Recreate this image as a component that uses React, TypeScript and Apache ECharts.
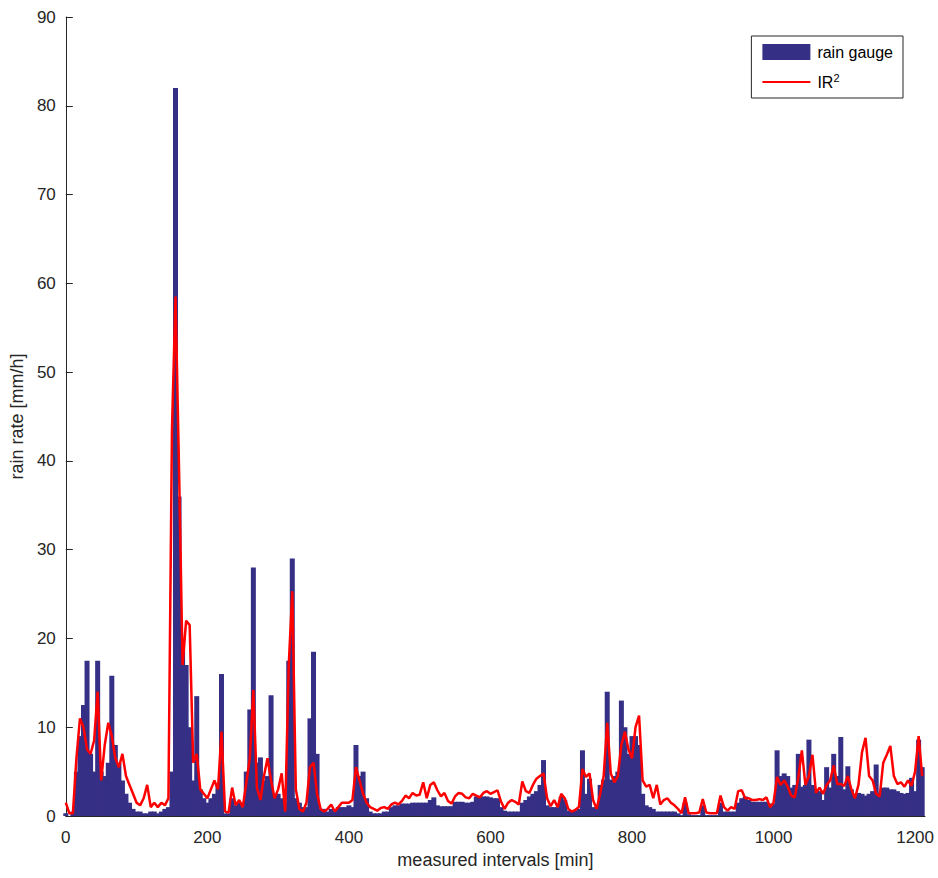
import React, { useEffect, useRef } from "react";
import * as echarts from "echarts";

// sampling step of the read-off values (measured intervals [min])
const STEP = 5;

const xTicks = [0, 200, 400, 600, 800, 1000, 1200];
const yTicks = [0, 10, 20, 30, 40, 50, 60, 70, 80, 90];

// rain gauge values, one per STEP minutes starting at 0
const rainGauge = [
  0.3, 0, 0.5, 5, 9, 12.5, 17.5, 7, 5, 17.5,
  5, 4.5, 6, 15.8, 8, 6, 4, 2.5, 1.5, 0.8,
  0.5, 0.5, 0.3, 0.3, 0.5, 0.5, 0.3, 0.5, 0.8, 1,
  5, 82, 36, 20, 17, 10, 4, 13.5, 3, 2,
  1.5, 2, 2.5, 3.5, 16, 0.3, 0.3, 2, 1.2, 1.5,
  1, 5, 12, 28, 6, 6.6, 4, 4.5, 13.6, 2.5,
  2.5, 2, 1.5, 17.5, 29, 2, 1.5, 1, 1, 11,
  18.5, 7, 0.8, 0.8, 0.5, 0.8, 0.5, 1, 1, 1,
  1.2, 1, 8, 4.5, 5, 2, 0.5, 0.3, 0.3, 0.3,
  0.5, 0.5, 1.0, 1.2, 1.2, 1.4, 1.4, 1.4, 1.5, 1.5,
  1.5, 1.5, 1.5, 1.8, 2.1, 1.2, 1.1, 1.1, 1.1, 1.1,
  1.6, 1.6, 1.6, 1.5, 1.5, 1.6, 2.2, 2.2, 2.2, 2.2,
  2.1, 2.0, 2.0, 1.0, 0.6, 0.5, 0.5, 0.5, 0.5, 1.5,
  1.8, 2.2, 2.5, 2.8, 3.5, 6.3, 1.2, 1.0, 1.0, 1.0,
  2.2, 1.8, 0.6, 0.6, 0.6, 0.8, 7.4, 2.5, 4.2, 1.0,
  1.0, 3.5, 4.1, 14, 4.1, 4.5, 5.0, 13, 10, 7,
  9, 9, 8, 2.5, 1.2, 1.0, 0.8, 0.5, 0.5, 0.5,
  0.5, 0.5, 0.5, 0.3, 0.1, 1.5, 0.2, 0.1, 0.1, 0.1,
  1.2, 0.1, 0.1, 0.1, 0.1, 1.5, 0.5, 0.5, 0.5, 0.5,
  1.5, 2.0, 2.2, 1.8, 1.6, 1.6, 1.6, 1.6, 1.6, 1.4,
  1.4, 7.4, 4.5, 4.8, 4.5, 3.2, 3.5, 7.0, 3.3, 3.5,
  8.6, 3.5, 3.0, 2.8, 1.8, 5.5, 3.2, 7.0, 4.5, 8.9,
  3.0, 5.6, 3.0, 2.5, 2.6, 2.5, 2.3, 2.5, 2.8, 5.8,
  2.6, 3.2, 3.2, 3.0, 3.0, 2.8, 2.6, 2.5, 2.6, 4.3,
  2.8, 8.6, 5.5,
];

// IR² estimate, one per STEP minutes starting at 0
const ir2 = [
  1.5, 0.3, 0.3, 6.5, 11, 10, 7.5, 7, 8.5, 14,
  4, 8, 10.5, 9, 6.5, 5.5, 7, 4.5, 3.5, 2.5,
  1.5, 1.2, 2, 3.5, 1, 1.5, 1, 1.5, 1.2, 2,
  43.5, 58.5, 39, 17, 22, 21.5, 6, 7, 3, 2.5,
  2, 3, 4, 3, 9.5, 0.5, 0.4, 3.2, 1.2, 1.8,
  1, 3.7, 6.5, 14.2, 3.2, 1.8, 4.5, 6.5, 4, 2,
  3, 4.8, 0.5, 17, 25.3, 3, 0.8, 0.5, 1.5, 5.5,
  6, 2.5, 0.8, 0.5, 0.8, 1.3, 0.5, 1, 1.5, 1.5,
  1.5, 1.8, 5.5, 4, 2.5, 1.5, 1, 0.8, 0.6, 0.9,
  1.0, 0.8, 1.3, 1.5, 1.3, 1.7, 2.3, 2.0, 2.6, 2.3,
  2.4, 3.8, 2.0, 3.5, 3.8, 2.9, 2.2, 2.6, 1.7, 1.4,
  2.2, 2.6, 2.5, 2.1, 2.0, 2.5, 2.3, 2.1, 2.6, 2.8,
  2.5, 2.7, 2.9, 1.6, 0.8, 1.5, 1.8, 1.6, 1.3, 3.9,
  2.8, 2.6, 3.5, 4.2, 4.5, 4.8, 2.0, 1.1, 1.8, 1.0,
  2.5, 2.0, 0.8, 0.5, 0.7, 1.0, 5.3, 4.4, 4.8, 1.8,
  0.8, 2.5, 4.5, 10.5, 4.8, 3.8, 4.5, 8, 9.5, 7.5,
  6.5, 10, 11.3, 4, 3.3, 3.5, 2, 3.5, 1.3, 1.8,
  2.0, 1.5, 1.2, 0.8, 0.3, 2.1, 0.3, 0.3, 0.3, 0.4,
  1.9, 0.4, 0.3, 0.3, 0.3, 2.3, 1.0, 0.6, 1.0, 0.8,
  2.8, 2.9, 2.0, 2.0, 1.8, 1.8, 1.9, 1.8, 2.1, 1.0,
  1.5, 4.4, 3.5, 4.0, 3.3, 2.3, 2.1, 4.3, 7.4, 3.5,
  4.5, 6.9, 2.6, 3.2, 2.5, 3.5, 4.0, 5.7, 3.6, 3.6,
  3.4, 4.5, 3.0, 2.0, 3.5, 7.2, 8.8, 4.5, 4.0, 2.5,
  2.2, 6.0, 6.9, 7.9, 4.5, 3.6, 3.8, 3.3, 4.0, 3.4,
  5.0, 9.0, 4.5,
];

const X_MAX = 1214;
const AX = "#262626";
const FONT = "Arial, 'Liberation Sans', Helvetica, sans-serif";

export default function App() {
  const ref = useRef<HTMLDivElement>(null);

  useEffect(() => {
    document.body.style.margin = "0";
    if (!ref.current) return;
    const chart = echarts.init(ref.current, undefined, { renderer: "svg" });
    const gaugeData = rainGauge.map((v, i) => [i * STEP, v]);
    const irData = ir2.map((v, i) => [i * STEP, v]);

    chart.setOption({
      animation: false,
      backgroundColor: "#ffffff",
      textStyle: { fontFamily: FONT },
      grid: { left: 65, right: 13, top: 17, bottom: 62, containLabel: false },
      legend: {
        orient: "vertical",
        right: 35,
        top: 36,
        padding: [8, 10, 8, 10],
        itemGap: 12,
        itemWidth: 48,
        itemHeight: 16,
        borderColor: AX,
        borderWidth: 1,
        borderRadius: 0,
        backgroundColor: "#ffffff",
        textStyle: {
          fontSize: 16,
          color: "#000",
          fontFamily: FONT,
          padding: [0, 0, 0, 2],
          rich: {
            sup: { fontSize: 11, verticalAlign: "top", padding: [0, 0, 9, 0], color: "#000", fontFamily: FONT },
          },
        },
        formatter: (name: string) => (name === "IR2" ? "IR{sup|2}" : name),
        data: [
          { name: "rain gauge", icon: "rect" },
          { name: "IR2", itemStyle: { opacity: 0 } },
        ],
      },
      xAxis: {
        type: "value",
        min: 0,
        max: X_MAX,
        interval: 200,
        name: "measured intervals [min]",
        nameLocation: "middle",
        nameGap: 32,
        nameTextStyle: { fontSize: 18, color: AX, fontFamily: FONT },
        axisLine: { show: true, lineStyle: { color: AX, width: 1 } },
        axisTick: { show: true, inside: true, length: 7, lineStyle: { color: AX }, customValues: xTicks },
        axisLabel: {
          fontSize: 17,
          color: AX,
          margin: 13,
          customValues: xTicks,
          fontFamily: FONT,
          formatter: (v: number) => String(v),
        },
        splitLine: { show: false },
      },
      yAxis: {
        type: "value",
        min: 0,
        max: 90,
        interval: 10,
        name: "rain rate [mm/h]",
        nameLocation: "middle",
        nameGap: 35,
        nameTextStyle: { fontSize: 18, color: AX, fontFamily: FONT },
        axisLine: { show: true, lineStyle: { color: AX, width: 1 } },
        axisTick: { show: true, inside: true, length: 7, lineStyle: { color: AX }, customValues: yTicks },
        axisLabel: {
          fontSize: 17,
          color: AX,
          margin: 10,
          customValues: yTicks,
          fontFamily: FONT,
          formatter: (v: number) => String(v),
        },
        splitLine: { show: false },
      },
      series: [
        {
          name: "rain gauge",
          type: "bar",
          data: gaugeData,
          barWidth: 5,
          itemStyle: { color: "#352f85" },
          z: 2,
        },
        {
          name: "IR2",
          type: "line",
          data: irData,
          showSymbol: false,
          symbol: "none",
          lineStyle: { color: "#ff0000", width: 2.5 },
          itemStyle: { color: "#ff0000" },
          z: 3,
        },
      ],
    });
    return () => chart.dispose();
  }, []);

  return <div ref={ref} style={{ width: 938, height: 878 }} />;
}
